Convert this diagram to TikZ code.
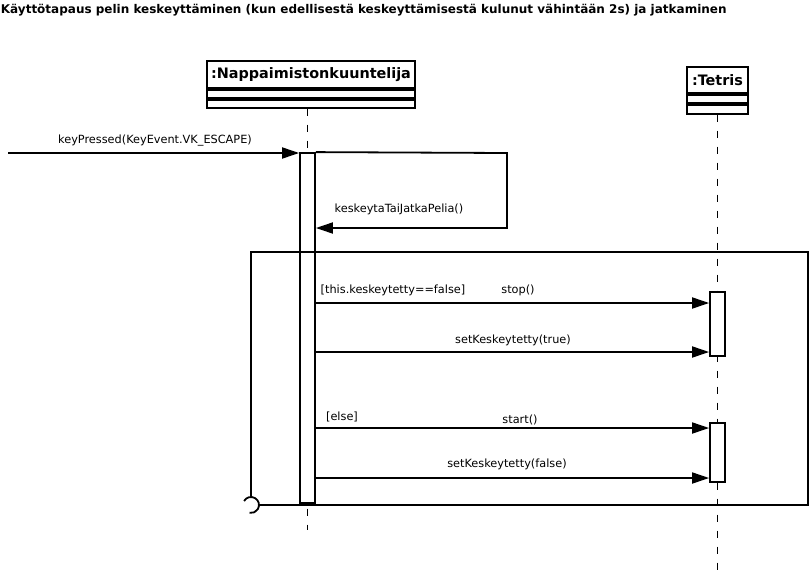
\documentclass[tikz,border=0pt]{standalone}
\usepackage{fontspec}
\setmainfont{DejaVu Sans}
\usetikzlibrary{arrows.meta,positioning}

\begin{document}
\begin{tikzpicture}[x=1pt,y=-1pt,line width=1.8pt,
  objname/.style={draw,fill=white,minimum height=27pt,inner sep=0pt,font=\fontsize{14.4}{16}\selectfont\bfseries},
  compart/.style={draw,minimum height=8pt,inner sep=0pt},
  activation/.style={draw,fill=white,minimum width=15pt,inner sep=0pt},
  lifeline/.style={line width=1.4pt,dash pattern=on 7pt off 9pt},
  msg/.style={-{Triangle[length=17pt,width=11pt]}},
  lbl/.style={font=\fontsize{11.3}{13}\selectfont,inner sep=0pt}]
  \useasboundingbox (0,0) rectangle (809,574);
  \node[anchor=west,inner sep=0pt,font=\fontsize{12}{14}\selectfont\bfseries] (title) at (0,10) {Käyttötapaus pelin keskeyttäminen (kun edellisestä keskeyttämisestä kulunut vähintään 2s) ja jatkaminen};
  \node[objname,minimum width=208pt] (nap) at (311,74.5) {:Nappaimistonkuuntelija};
  \node[compart,minimum width=208pt,below=0pt of nap] (napA) {};
  \node[compart,minimum width=208pt,below=0pt of napA] (napB) {};
  \node[objname,minimum width=61pt,minimum height=26pt] (tet) at (717.5,80) {:Tetris};
  \node[compart,minimum width=61pt,minimum height=8.5pt,below=0pt of tet] (tetA) {};
  \node[compart,minimum width=61pt,minimum height=8.5pt,below=0pt of tetA] (tetB) {};
  \coordinate (napEnd) at (307.5,530);
  \coordinate (tetEnd) at (717.5,574);
  \draw[lifeline] (napB.south -| napEnd) -- (napEnd);
  \draw[lifeline] (tetB.south) -- (tetEnd);
  \node[activation,minimum height=350pt] (actNap) at (307.5,328) {};
  \node[activation,minimum height=64pt] (actStop) at (717.5,324) {};
  \node[activation,minimum height=59pt] (actStart) at (717.5,452.5) {};
  \draw (251,497) -- (251,252) -- (808,252) -- (808,505) -- (259,505);
  \draw (244.07,501) arc[start angle=-150,end angle=100,radius=8];
  \coordinate (caller) at (8,153);
  \coordinate (selfTurn) at (507,153);
  \draw[msg] (caller) -- (caller -| actNap.west);
  \node[lbl] at (155,141) {keyPressed(KeyEvent.VK\_ESCAPE)};
  \draw[msg] (actNap.north east) -- (selfTurn) -- (507,228) -- (actNap.east |- 0,228);
  \node[lbl] at (399,209) {keskeytaTaiJatkaPelia()};
  \draw[msg] (actNap.east |- 0,303) -- (actStop.west |- 0,303);
  \node[lbl] at (393,290) {[this.keskeytetty==false]};
  \node[lbl] at (518,290) {stop()};
  \draw[msg] (actNap.east |- 0,352) -- (actStop.west |- 0,352);
  \node[lbl] at (513,340) {setKeskeytetty(true)};
  \draw[msg] (actNap.east |- 0,428) -- (actStart.west |- 0,428);
  \node[lbl] at (342,417) {[else]};
  \node[lbl] at (520,420) {start()};
  \draw[msg] (actNap.east |- 0,478) -- (actStart.west |- 0,478);
  \node[lbl] at (507,464) {setKeskeytetty(false)};
\end{tikzpicture}
\end{document}
